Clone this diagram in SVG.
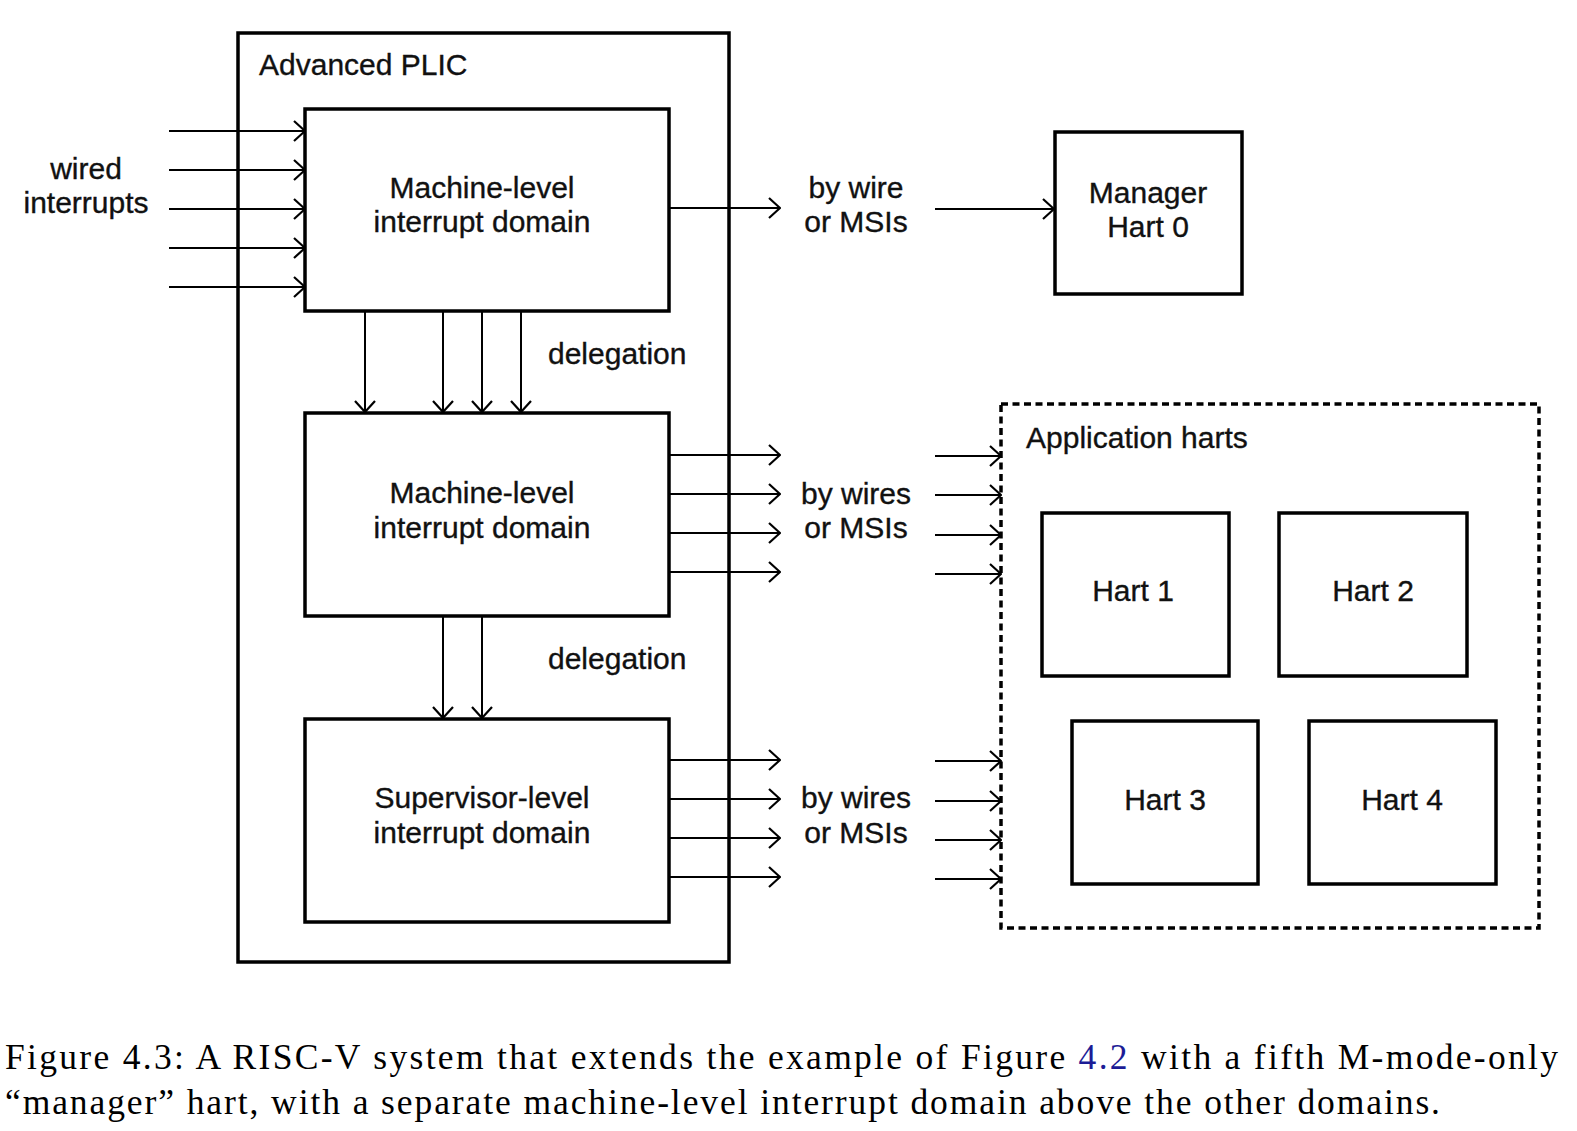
<svg xmlns="http://www.w3.org/2000/svg" width="1577" height="1131" viewBox="0 0 1577 1131">
<style>
.box{fill:none;stroke:#000;stroke-width:3.5}
.dash{fill:none;stroke:#000;stroke-width:3.5;stroke-dasharray:7 4.5}
.t{font-family:"Liberation Sans",Arial,sans-serif;font-size:30px;fill:#111;stroke:#111;stroke-width:0.35}
.c{text-anchor:middle}
.w{stroke:#000;stroke-width:2;fill:none;marker-end:url(#ah)}
.cap{font-family:"Liberation Serif","Times New Roman",serif;font-size:35.5px;fill:#000}
</style>
<defs>
<marker id="ah" viewBox="0 0 13 22" refX="12" refY="11" markerWidth="13" markerHeight="22" markerUnits="userSpaceOnUse" orient="auto">
<path d="M1,1 L12,11 L1,21" fill="none" stroke="#000" stroke-width="2.2"/>
</marker>
</defs>
<rect x="0" y="0" width="1577" height="1131" fill="#fff"/>

<g id="aplic">
<rect class="box" x="238" y="33" width="491" height="929"/>
<text class="t" x="259" y="75">Advanced PLIC</text>
</g>
<g id="wired-label">
<text class="t c" x="86" y="179">wired</text>
<text class="t c" x="86" y="213">interrupts</text>
</g>
<g id="m-domain-top">
<rect class="box" x="305" y="109" width="364" height="202"/>
<text class="t c" x="482" y="198">Machine-level</text>
<text class="t c" x="482" y="232">interrupt domain</text>
</g>
<g id="m-domain">
<rect class="box" x="305" y="413" width="364" height="203"/>
<text class="t c" x="482" y="503">Machine-level</text>
<text class="t c" x="482" y="538">interrupt domain</text>
</g>
<g id="s-domain">
<rect class="box" x="305" y="719" width="364" height="203"/>
<text class="t c" x="482" y="808">Supervisor-level</text>
<text class="t c" x="482" y="843">interrupt domain</text>
</g>
<g id="deleg-labels">
<text class="t" x="548" y="364">delegation</text>
<text class="t" x="548" y="669">delegation</text>
</g>
<g id="msi-labels">
<text class="t c" x="856" y="198">by wire</text>
<text class="t c" x="856" y="232">or MSIs</text>
<text class="t c" x="856" y="504">by wires</text>
<text class="t c" x="856" y="538">or MSIs</text>
<text class="t c" x="856" y="808">by wires</text>
<text class="t c" x="856" y="843">or MSIs</text>
</g>
<g id="manager">
<rect class="box" x="1055" y="132" width="187" height="162"/>
<text class="t c" x="1148" y="203">Manager</text>
<text class="t c" x="1148" y="237">Hart 0</text>
</g>
<g id="app-harts">
<rect class="dash" x="1001" y="404" width="538" height="524"/>
<text class="t" x="1026" y="448">Application harts</text>
</g>
<g id="hart1">
<rect class="box" x="1042" y="513" width="187" height="163"/>
<text class="t c" x="1133" y="601">Hart 1</text>
</g>
<g id="hart2">
<rect class="box" x="1279" y="513" width="188" height="163"/>
<text class="t c" x="1373" y="601">Hart 2</text>
</g>
<g id="hart3">
<rect class="box" x="1072" y="721" width="186" height="163"/>
<text class="t c" x="1165" y="810">Hart 3</text>
</g>
<g id="hart4">
<rect class="box" x="1309" y="721" width="187" height="163"/>
<text class="t c" x="1402" y="810">Hart 4</text>
</g>

<g id="connectors">
<line class="w" x1="169" y1="131" x2="305" y2="131"/>
<line class="w" x1="169" y1="170" x2="305" y2="170"/>
<line class="w" x1="169" y1="209" x2="305" y2="209"/>
<line class="w" x1="169" y1="248" x2="305" y2="248"/>
<line class="w" x1="169" y1="287" x2="305" y2="287"/>

<line class="w" x1="365" y1="311" x2="365" y2="412"/>
<line class="w" x1="443" y1="311" x2="443" y2="412"/>
<line class="w" x1="482" y1="311" x2="482" y2="412"/>
<line class="w" x1="521" y1="311" x2="521" y2="412"/>
<line class="w" x1="443" y1="616" x2="443" y2="718"/>
<line class="w" x1="482" y1="616" x2="482" y2="718"/>

<line class="w" x1="669" y1="208" x2="780" y2="208"/>
<line class="w" x1="669" y1="455" x2="780" y2="455"/>
<line class="w" x1="669" y1="494" x2="780" y2="494"/>
<line class="w" x1="669" y1="533" x2="780" y2="533"/>
<line class="w" x1="669" y1="572" x2="780" y2="572"/>
<line class="w" x1="669" y1="760" x2="780" y2="760"/>
<line class="w" x1="669" y1="799" x2="780" y2="799"/>
<line class="w" x1="669" y1="838" x2="780" y2="838"/>
<line class="w" x1="669" y1="877" x2="780" y2="877"/>

<line class="w" x1="935" y1="209" x2="1054" y2="209"/>
<line class="w" x1="935" y1="456" x2="1001" y2="456"/>
<line class="w" x1="935" y1="495" x2="1001" y2="495"/>
<line class="w" x1="935" y1="535" x2="1001" y2="535"/>
<line class="w" x1="935" y1="574" x2="1001" y2="574"/>
<line class="w" x1="935" y1="761" x2="1001" y2="761"/>
<line class="w" x1="935" y1="801" x2="1001" y2="801"/>
<line class="w" x1="935" y1="840" x2="1001" y2="840"/>
<line class="w" x1="935" y1="879" x2="1001" y2="879"/>
</g>

<g id="caption">
<text class="cap" x="5" y="1069" textLength="1553" lengthAdjust="spacing">Figure 4.3:  A RISC-V system that extends the example of Figure <tspan fill="#1c1c96">4.2</tspan> with a fifth M-mode-only</text>
<text class="cap" x="5" y="1114" textLength="1435" lengthAdjust="spacing">“manager” hart, with a separate machine-level interrupt domain above the other domains.</text>
</g>
</svg>
